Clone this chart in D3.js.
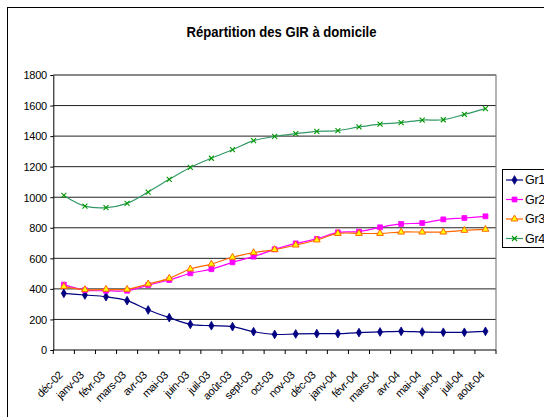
<!DOCTYPE html>
<html>
<head>
<meta charset="utf-8">
<script src="https://cdn.jsdelivr.net/npm/d3@7"></script>
<style>
  html, body { margin: 0; padding: 0; background: #fff; }
  svg { display: block; font-family: "Liberation Sans", Arial, sans-serif; }
</style>
</head>
<body>
<svg id="chart" width="544" height="417"></svg>
<script>
// Months on the horizontal axis
const categories = ["déc-02","janv-03","févr-03","mars-03","avr-03","mai-03","juin-03","juil-03","août-03","sept-03","oct-03","nov-03","déc-03","janv-04","févr-04","mars-04","avr-04","mai-04","juin-04","juil-04","août-04"];

// Number of beneficiaries per GIR group
const gr1 = [371,360,349,323,262,212,168,159,153,120,102,105,107,107,114,118,122,118,116,116,122];
const gr2 = [428,392,388,388,425,458,502,529,574,611,659,698,727,770,775,803,825,831,855,864,875];
const gr3 = [415,395,397,397,432,469,530,562,607,637,657,687,720,763,763,763,772,772,772,783,790];
const gr4 = [1012,942,932,960,1034,1117,1195,1255,1311,1370,1398,1416,1431,1436,1460,1479,1488,1505,1507,1542,1580];

const seriesNames = ["Gr1","Gr2","Gr3","Gr4"];
const yTicks = [0,200,400,600,800,1000,1200,1400,1600,1800];
const title = "Répartition des GIR à domicile";

const series = [
  { name: seriesNames[0], values: gr1, line: "#000080", marker: "diamond", fill: "#000080", stroke: "#000080" },
  { name: seriesNames[1], values: gr2, line: "#FF00FF", marker: "square",  fill: "#FF00FF", stroke: "#FF00FF" },
  { name: seriesNames[2], values: gr3, line: "#FF6600", marker: "triangle", fill: "#FFFF00", stroke: "#FF6600" },
  { name: seriesNames[3], values: gr4, line: "#339966", marker: "x",       fill: "none",    stroke: "#009900" }
];

const svg = d3.select("#chart");

// Outer chart frame
svg.append("rect")
  .attr("x", 7.5).attr("y", 7.5)
  .attr("width", 600).attr("height", 500)
  .attr("fill", "#fff").attr("stroke", "#000").attr("stroke-width", 1);

// Title
svg.append("text")
  .attr("x", 186.5).attr("y", 37)
  .attr("textLength", 190).attr("lengthAdjust", "spacingAndGlyphs")
  .attr("font-size", 15).attr("font-weight", "bold")
  .attr("fill", "#000")
  .text(title);

const plot = { left: 53.3, right: 496, top: 75, bottom: 350 };

const x = d3.scaleBand().domain(categories).range([plot.left, plot.right]).padding(0);
const y = d3.scaleLinear().domain([0, 1800]).range([plot.bottom, plot.top]);
const cx = c => x(c) + x.bandwidth() / 2;

// Horizontal gridlines
svg.append("g").selectAll("line").data(yTicks.filter(t => t > 0)).join("line")
  .attr("x1", plot.left).attr("x2", plot.right)
  .attr("y1", d => y(d)).attr("y2", d => y(d))
  .attr("stroke", "#222").attr("stroke-width", 1);

// Plot area border (top and right)
svg.append("path")
  .attr("d", `M${plot.left},${plot.top}H${plot.right}V${plot.bottom}`)
  .attr("fill", "none").attr("stroke", "#808080").attr("stroke-width", 1.2);

// Y axis
const yAxis = svg.append("g")
  .attr("transform", `translate(${plot.left},0)`)
  .call(d3.axisLeft(y).tickValues(yTicks).tickSize(3).tickSizeOuter(0).tickFormat(d3.format("d")));
yAxis.select(".domain").attr("stroke", "#000");
yAxis.selectAll(".tick line").attr("stroke", "#000");
yAxis.selectAll(".tick text")
  .attr("font-size", 11).attr("font-family", "Liberation Sans, Arial, sans-serif")
  .attr("letter-spacing", -0.3)
  .attr("fill", "#000").attr("x", -6.5).attr("dy", "0.35em");

// X axis with ticks between categories
const xAxisG = svg.append("g").attr("transform", `translate(0,${plot.bottom})`);
xAxisG.append("line")
  .attr("x1", plot.left).attr("x2", plot.right).attr("y1", 0).attr("y2", 0)
  .attr("stroke", "#000");
const boundaries = categories.map(c => x(c)).concat([plot.right]);
xAxisG.selectAll("line.tk").data(boundaries).join("line")
  .attr("class", "tk")
  .attr("x1", d => d).attr("x2", d => d).attr("y1", 0).attr("y2", 4)
  .attr("stroke", "#000");
svg.append("g").selectAll("text").data(categories).join("text")
  .attr("transform", d => `translate(${cx(d) - 0.5},376) rotate(-45)`)
  .attr("text-anchor", "end")
  .attr("font-size", 11)
  .attr("letter-spacing", -0.4)
  .attr("fill", "#000")
  .text(d => d);

// Marker drawing
function drawMarker(g, type, fill, stroke) {
  if (type === "diamond") {
    g.append("path").attr("d", d3.symbol(d3.symbolDiamond, 22)())
      .attr("fill", fill).attr("stroke", stroke).attr("stroke-width", 0.8);
  } else if (type === "square") {
    g.append("path").attr("d", d3.symbol(d3.symbolSquare, 24)())
      .attr("fill", fill).attr("stroke", stroke).attr("stroke-width", 0.8);
  } else if (type === "triangle") {
    g.append("path").attr("d", d3.symbol(d3.symbolTriangle, 20)())
      .attr("fill", fill).attr("stroke", stroke).attr("stroke-width", 1);
  } else {
    const r = 2.5;
    g.append("path").attr("d", `M${-r},${-r}L${r},${r}M${-r},${r}L${r},${-r}`)
      .attr("fill", "none").attr("stroke", stroke).attr("stroke-width", 1.1);
  }
}

const line = d3.line()
  .x((d, i) => cx(categories[i]))
  .y(d => y(d))
  .curve(d3.curveCatmullRom.alpha(0.5));

series.forEach(s => {
  const g = svg.append("g");
  g.append("path").datum(s.values)
    .attr("d", line)
    .attr("fill", "none").attr("stroke", s.line).attr("stroke-width", 1.2);
  s.values.forEach((v, i) => {
    const mg = g.append("g").attr("transform", `translate(${cx(categories[i])},${y(v)})`);
    drawMarker(mg, s.marker, s.fill, s.stroke);
  });
});

// Legend (its right part runs past the frame edge)
const legend = svg.append("g");
legend.append("rect")
  .attr("x", 502.5).attr("y", 169.5).attr("width", 80).attr("height", 78)
  .attr("fill", "#fff").attr("stroke", "#000").attr("stroke-width", 1);
const legendY = [180, 199.5, 219, 238.5];
series.forEach((s, i) => {
  const ly = legendY[i];
  legend.append("line")
    .attr("x1", 506).attr("x2", 523).attr("y1", ly).attr("y2", ly)
    .attr("stroke", s.line).attr("stroke-width", 1.2);
  const mg = legend.append("g").attr("transform", `translate(514.5,${ly})`);
  drawMarker(mg, s.marker, s.fill, s.stroke);
  legend.append("text")
    .attr("x", 525).attr("y", ly + 4.3)
    .attr("font-size", 12.5).attr("letter-spacing", -0.3).attr("fill", "#000")
    .text(s.name);
});
</script>
</body>
</html>
